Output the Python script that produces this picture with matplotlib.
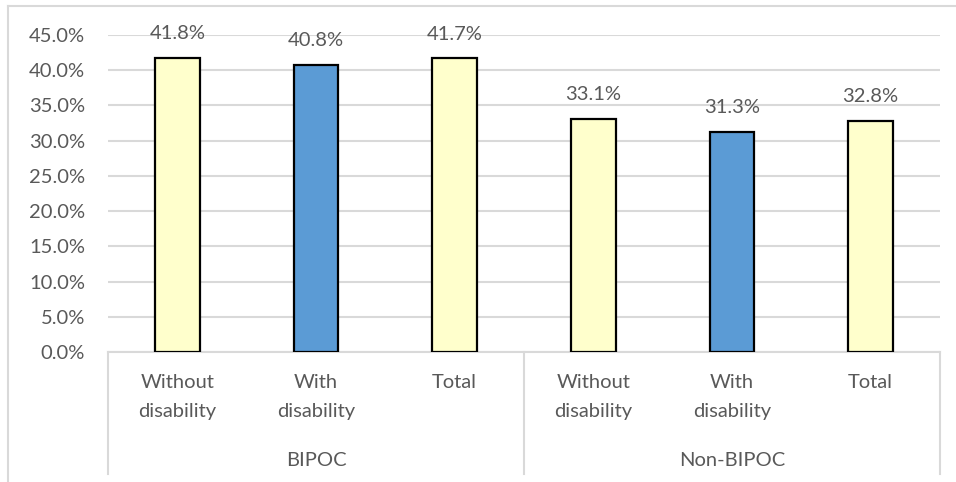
import matplotlib
matplotlib.use("Agg")
import matplotlib.pyplot as plt
from matplotlib.lines import Line2D

# Data
groups = ["BIPOC", "Non-BIPOC"]
subcategories = ["Without\ndisability", "With\ndisability", "Total",
                 "Without\ndisability", "With\ndisability", "Total"]
values = [41.8, 40.8, 41.7, 33.1, 31.3, 32.8]
bar_colors = ["#FFFFCC", "#5B9BD5", "#FFFFCC", "#FFFFCC", "#5B9BD5", "#FFFFCC"]
y_ticks = [0, 5, 10, 15, 20, 25, 30, 35, 40, 45]

W, H = 956, 482
plt.rcParams['font.family'] = ['Lato', 'DejaVu Sans']
text_color = "#595959"
grid_color = "#D9D9D9"
fs = 14.5

fig = plt.figure(figsize=(W / 100, H / 100), dpi=100)

# Outer chart border (light gray)
fig.add_artist(Line2D([8 / W, 1.0], [1 - 6 / H, 1 - 6 / H], transform=fig.transFigure,
                      color=grid_color, lw=1.5))
fig.add_artist(Line2D([8 / W, 8 / W], [0.0, 1 - 6 / H], transform=fig.transFigure,
                      color=grid_color, lw=1.5))

# Plot area in pixels
left, right, top, bottom = 108, 940, 35, 352
ax = fig.add_axes([left / W, 1 - bottom / H, (right - left) / W, (bottom - top) / H])

x = list(range(len(values)))
ax.bar(x, values, width=0.32, color=bar_colors, edgecolor="black", linewidth=1.6, zorder=3)

ax.set_xlim(-0.5, len(values) - 0.5)
ax.set_ylim(0, 45)
ax.set_yticks(y_ticks)
ax.set_yticklabels([f"{t:.1f}%" for t in y_ticks], fontsize=fs, color=text_color)
ax.tick_params(axis="y", length=0, pad=16.5)
ax.set_xticks([])
for s in ax.spines.values():
    s.set_visible(False)
ax.grid(axis="y", color=grid_color, linewidth=1.5, zorder=0)
ax.set_axisbelow(True)

# Value labels
for xi, v in zip(x, values):
    ax.annotate(f"{v:.1f}%", (xi, v), xytext=(0, 17.3), textcoords="offset points",
                ha="center", va="center", fontsize=fs, color=text_color)

# Multi-level category axis
ph = bottom - top
def ay(ypix):
    return (bottom - ypix) / ph

xt = ax.get_xaxis_transform()
ax.plot([-0.5, len(values) - 0.5], [0, 0], transform=xt, color=grid_color, lw=1.5,
        clip_on=False, zorder=2)
n_per = len(values) // len(groups)
for k in range(len(groups) + 1):
    xb = -0.5 + k * n_per
    ax.plot([xb, xb], [0, ay(474)], transform=xt, color=grid_color, lw=1.5, clip_on=False)

line_y = [382, 411]
for xi, lab in zip(x, subcategories):
    for li, part in enumerate(lab.split("\n")):
        ax.text(xi, ay(line_y[li]), part, transform=xt, ha="center", va="center",
                fontsize=fs, color=text_color)

for gi, g in enumerate(groups):
    xc = gi * n_per + (n_per - 1) / 2
    ax.text(xc, ay(461), g, transform=xt, ha="center", va="center",
            fontsize=fs, color=text_color)

fig.savefig("out.png", dpi=100, facecolor="white")
